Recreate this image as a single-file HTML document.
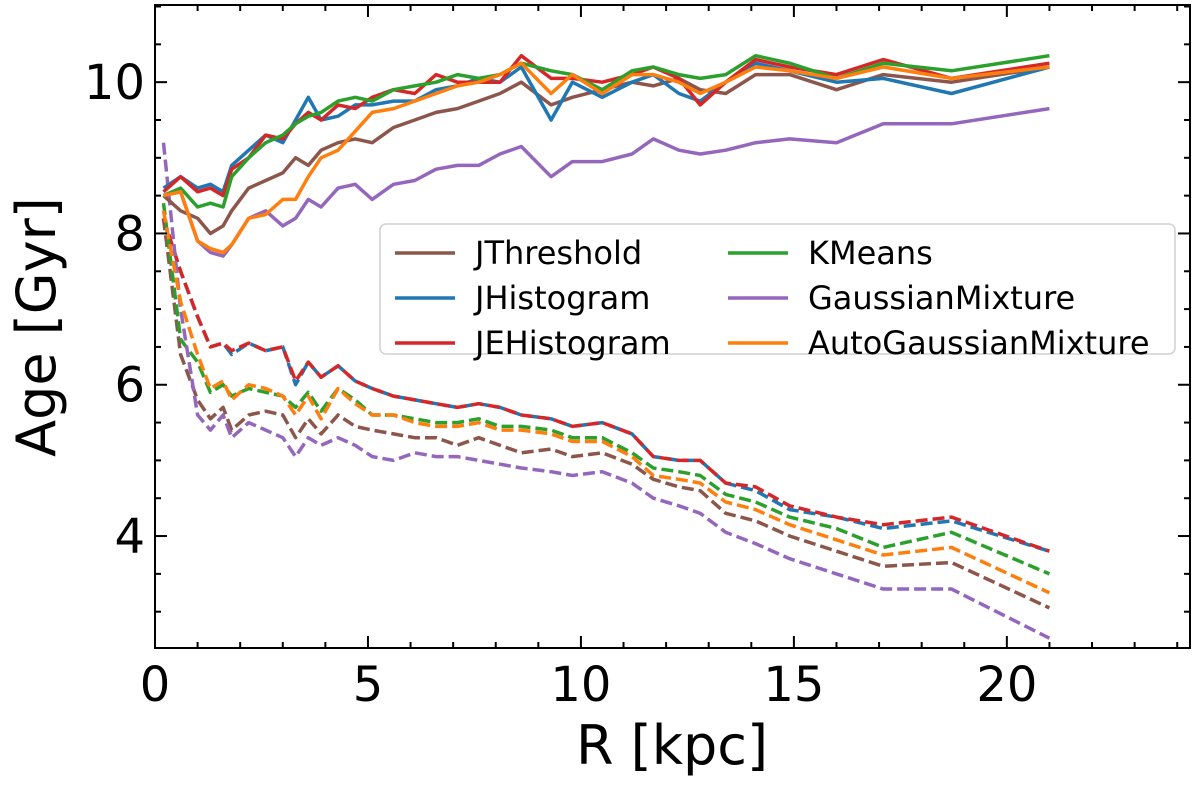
<!DOCTYPE html>
<html><head><meta charset="utf-8"><style>
body{margin:0;background:#fff;}
svg text{font-family:"DejaVu Sans","Liberation Sans",sans-serif;}
</style></head><body>
<svg id="chart" width="1200" height="787" viewBox="0 0 1200 787">
<g id="series"></g>
<rect x="155" y="5" width="1035" height="643" fill="none" stroke="#000" stroke-width="2"/>
<g id="ticks"></g>
<text x="672" y="764" font-size="54" text-anchor="middle">R [kpc]</text>
<text transform="translate(55,327) rotate(-90)" font-size="54" text-anchor="middle">Age [Gyr]</text>
<g id="legend">
<rect x="380" y="224" width="795" height="130" rx="6" fill="#fff" fill-opacity="0.85" stroke="#d0d0d0" stroke-width="1.5"/>
</g>
</svg>
<script>
const R=[0.2,0.6,1.0,1.3,1.6,1.8,2.2,2.6,3.0,3.3,3.6,3.9,4.3,4.7,5.1,5.6,6.1,6.6,7.1,7.6,8.1,8.6,9.3,9.8,10.5,11.2,11.7,12.3,12.8,13.4,14.1,14.9,16,17.1,18.7,21];
const jThresholdOld=[8.5,8.3,8.2,8.0,8.1,8.3,8.6,8.7,8.8,9.0,8.9,9.1,9.2,9.25,9.2,9.4,9.5,9.6,9.65,9.75,9.85,10.0,9.7,9.8,9.9,10.0,9.95,10.05,9.9,9.85,10.1,10.1,9.9,10.1,10.0,10.2];
const jHistogramOld=[8.6,8.75,8.6,8.65,8.55,8.9,9.1,9.3,9.2,9.5,9.8,9.5,9.55,9.7,9.7,9.75,9.75,9.9,9.95,10.05,10.0,10.2,9.5,10.0,9.8,10.0,10.1,9.85,9.75,10.0,10.25,10.15,10.0,10.05,9.85,10.2];
const jeHistogramOld=[8.55,8.75,8.55,8.6,8.5,8.85,9.0,9.3,9.25,9.45,9.6,9.5,9.7,9.65,9.8,9.9,9.85,10.1,10.0,10.0,10.0,10.35,10.05,10.05,10.0,10.1,10.2,10.05,9.7,10.0,10.3,10.2,10.1,10.3,10.05,10.25];
const kMeansOld=[8.5,8.6,8.35,8.4,8.35,8.75,9.0,9.2,9.3,9.45,9.55,9.6,9.75,9.8,9.75,9.9,9.95,10.0,10.1,10.05,10.1,10.25,10.15,10.1,9.9,10.15,10.2,10.1,10.05,10.1,10.35,10.25,10.05,10.25,10.15,10.35];
const gmOld=[8.5,8.55,7.9,7.75,7.7,7.85,8.2,8.3,8.1,8.2,8.45,8.35,8.6,8.65,8.45,8.65,8.7,8.85,8.9,8.9,9.05,9.15,8.75,8.95,8.95,9.05,9.25,9.1,9.05,9.1,9.2,9.25,9.2,9.45,9.45,9.65];
const autoGmOld=[8.5,8.55,7.9,7.8,7.75,7.85,8.2,8.25,8.45,8.45,8.75,9.0,9.1,9.35,9.6,9.65,9.75,9.85,9.95,10.0,10.1,10.25,9.85,10.1,9.85,10.1,10.1,10.0,9.85,10.0,10.2,10.15,10.05,10.2,10.05,10.2];
const jThresholdYoung=[8.2,6.4,5.8,5.55,5.7,5.4,5.6,5.65,5.6,5.3,5.55,5.35,5.6,5.45,5.4,5.35,5.3,5.3,5.2,5.3,5.2,5.1,5.15,5.05,5.1,4.95,4.75,4.65,4.6,4.3,4.2,4.0,3.8,3.6,3.65,3.05];
const jHistogramYoung=[8.2,7.5,6.9,6.5,6.55,6.4,6.55,6.45,6.5,6.0,6.3,6.1,6.25,6.05,5.95,5.85,5.8,5.75,5.7,5.75,5.7,5.6,5.55,5.45,5.5,5.35,5.05,5.0,5.0,4.7,4.6,4.35,4.25,4.1,4.2,3.8];
const jeHistogramYoung=[8.2,7.5,6.9,6.5,6.55,6.45,6.55,6.45,6.5,6.05,6.3,6.1,6.25,6.05,5.95,5.85,5.8,5.75,5.7,5.75,5.7,5.6,5.55,5.45,5.5,5.35,5.05,5.0,5.0,4.7,4.65,4.4,4.25,4.15,4.25,3.8];
const kMeansYoung=[8.4,6.6,6.3,5.9,6.0,5.85,5.95,5.9,5.85,5.7,5.9,5.65,5.95,5.8,5.6,5.6,5.55,5.5,5.5,5.55,5.45,5.45,5.4,5.3,5.3,5.1,4.9,4.85,4.8,4.55,4.45,4.25,4.1,3.85,4.05,3.5];
const gmYoung=[9.2,7.0,5.6,5.4,5.6,5.3,5.5,5.4,5.3,5.05,5.3,5.2,5.3,5.2,5.05,5.0,5.1,5.05,5.05,5.0,4.95,4.9,4.85,4.8,4.85,4.7,4.5,4.4,4.3,4.05,3.9,3.7,3.5,3.3,3.3,2.65];
const autoGmYoung=[8.3,7.1,6.4,5.95,6.05,5.8,6.0,5.95,5.85,5.6,5.85,5.55,5.95,5.75,5.6,5.6,5.5,5.45,5.45,5.5,5.4,5.4,5.35,5.25,5.25,5.05,4.8,4.75,4.7,4.45,4.35,4.15,3.95,3.75,3.85,3.25];
const xTicks=[0,5,10,15,20];
const yTicks=[4,6,8,10];
const legendLabels=["JThreshold","JHistogram","JEHistogram","KMeans","GaussianMixture","AutoGaussianMixture"];

const NS="http://www.w3.org/2000/svg";
const X0=155,X1=1190,Y0=648,Y1=5,xmin=0,xmax=24.3,ymin=2.52,ymax=11.02;
const sx=v=>X0+(v-xmin)/(xmax-xmin)*(X1-X0);
const sy=v=>Y0-(v-ymin)/(ymax-ymin)*(Y0-Y1);
const C={brown:"#8c564b",blue:"#1f77b4",red:"#d62728",green:"#2ca02c",purple:"#9467bd",orange:"#ff7f0e"};
const series=[
 ["jthreshold-young",jThresholdYoung,C.brown,true],["jhistogram-young",jHistogramYoung,C.blue,true],["jehistogram-young",jeHistogramYoung,C.red,true],
 ["kmeans-young",kMeansYoung,C.green,true],["gm-young",gmYoung,C.purple,true],["autogm-young",autoGmYoung,C.orange,true],
 ["jthreshold-old",jThresholdOld,C.brown,false],["jhistogram-old",jHistogramOld,C.blue,false],["jehistogram-old",jeHistogramOld,C.red,false],
 ["kmeans-old",kMeansOld,C.green,false],["gm-old",gmOld,C.purple,false],["autogm-old",autoGmOld,C.orange,false]];
const sg=document.getElementById('series');
series.forEach(s=>{
 const p=document.createElementNS(NS,'polyline');
 p.setAttribute('points',R.map((r,i)=>sx(r).toFixed(1)+','+sy(s[1][i]).toFixed(1)).join(' '));
 p.setAttribute('fill','none');p.setAttribute('stroke',s[2]);p.setAttribute('stroke-width','3.5');
 p.setAttribute('stroke-linejoin','round');
 if(s[3])p.setAttribute('stroke-dasharray','12 5');
 
 
 sg.appendChild(p);
});
const tg=document.getElementById('ticks');
function line(x1,y1,x2,y2,w){const l=document.createElementNS(NS,'line');l.setAttribute('x1',x1);l.setAttribute('y1',y1);l.setAttribute('x2',x2);l.setAttribute('y2',y2);l.setAttribute('stroke','#000');l.setAttribute('stroke-width',w||2);
 
 
 tg.appendChild(l);}
function txt(x,y,s,anchor){const t=document.createElementNS(NS,'text');t.setAttribute('x',x);t.setAttribute('y',y);t.setAttribute('font-size','48');t.setAttribute('text-anchor',anchor);t.textContent=s;
 
 
 tg.appendChild(t);}
for(let v=0;v<=24;v++){const x=sx(v);const L=v%5===0?12:6;line(x,Y0,x,Y0-L);line(x,Y1,x,Y1+L);}
for(let v=3;v<=11;v+=0.5){const y=sy(v);const L=(v%2===0)?12:6;line(X0,y,X0+L,y);line(X1,y,X1-L,y);}
xTicks.forEach(v=>txt(sx(v),Y0+53,String(v),'middle'));
yTicks.forEach(v=>txt(X0-10,sy(v)+17,String(v),'end'));
const lg=document.getElementById('legend');
const lcols=[C.brown,C.blue,C.red,C.green,C.purple,C.orange];
legendLabels.forEach((lab,i)=>{
 const col=Math.floor(i/3),row=i%3;
 const lx=395+col*333, ly=253+row*45;
 const l=document.createElementNS(NS,'line');l.setAttribute('x1',lx);l.setAttribute('x2',lx+60);l.setAttribute('y1',ly);l.setAttribute('y2',ly);l.setAttribute('stroke',lcols[i]);l.setAttribute('stroke-width','3.5');
 
 
 lg.appendChild(l);
 const t=document.createElementNS(NS,'text');t.setAttribute('x',lx+80);t.setAttribute('y',ly+11);t.setAttribute('font-size','32');t.textContent=lab;
 
 
 lg.appendChild(t);
});
</script>
</body></html>
